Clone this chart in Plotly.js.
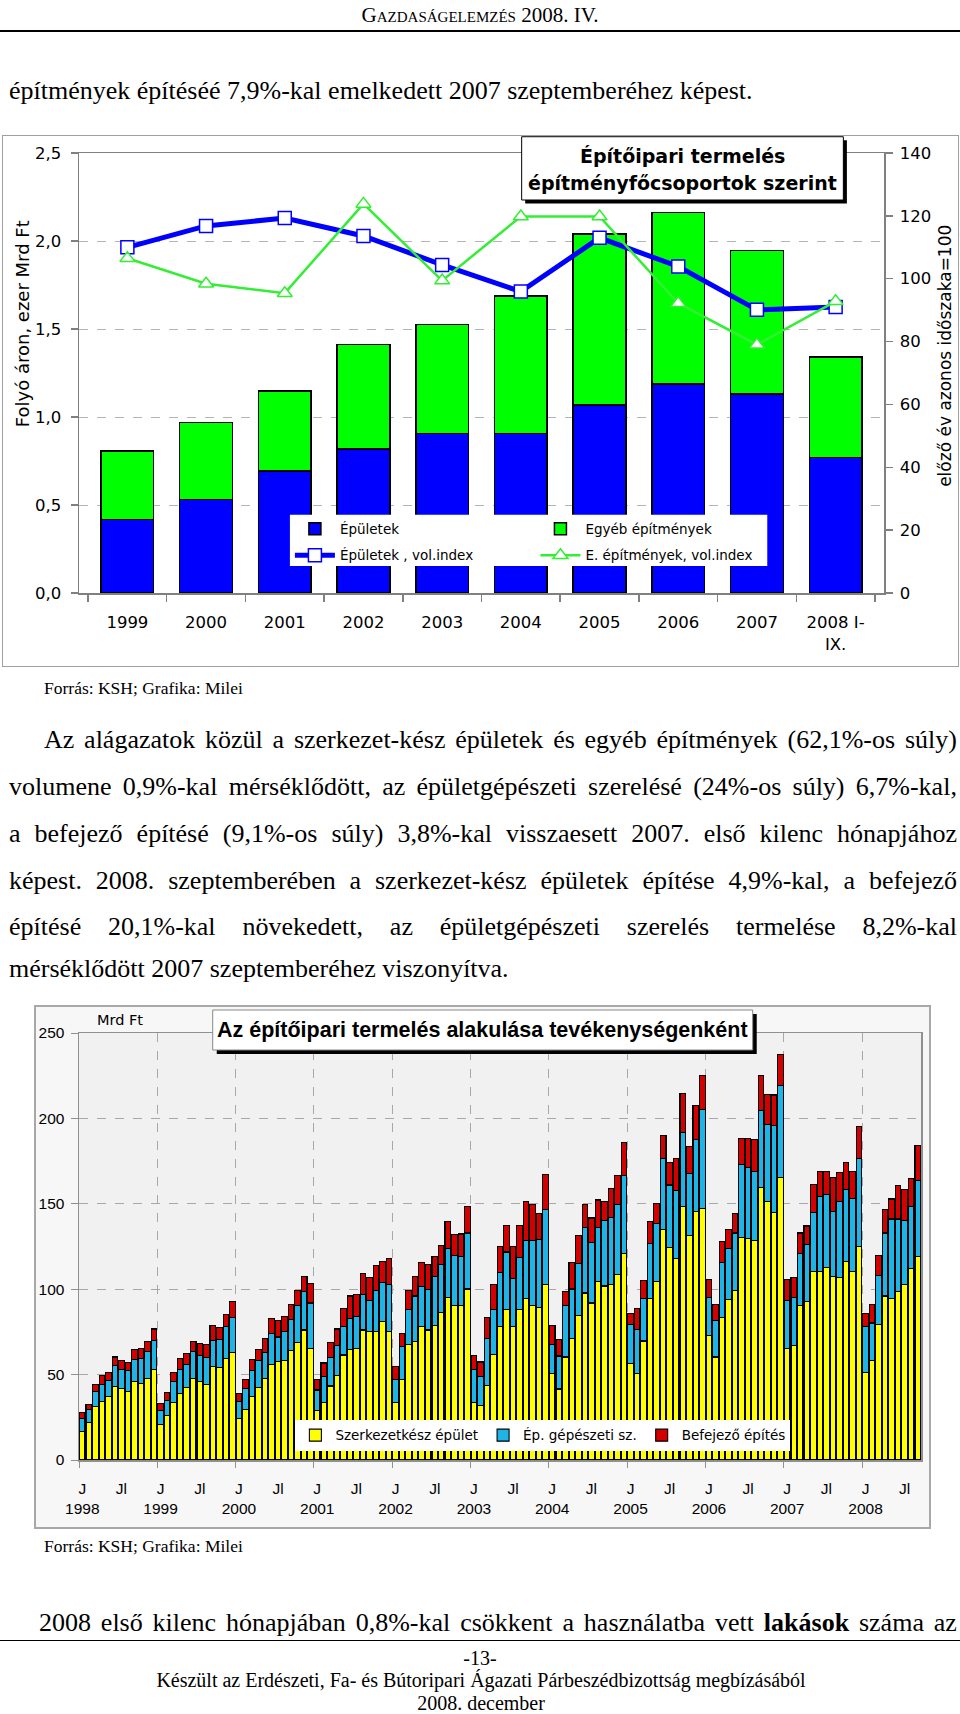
<!DOCTYPE html>
<html>
<head>
<meta charset="utf-8">
<script src="https://cdn.plot.ly/plotly-3.0.1.min.js"></script>
<style>
  body { margin: 0; background: #fff; }
  #page { position: relative; width: 960px; height: 1714px; overflow: hidden; }
  .t { position: absolute; font-family: 'Liberation Serif', serif; white-space: nowrap; color: #000; }
  .just { display: flex; justify-content: space-between; }
  .rule { position: absolute; left: 0; width: 960px; background: #000; }
  #c1 { position: absolute; left: 3px; top: 136px; width: 955px; height: 530px; outline: 1.5px solid #a0a0a0; }
  #c2 { position: absolute; left: 36px; top: 1007px; width: 893px; height: 520px; outline: 2px solid #a8a8a8; }
</style>
</head>
<body>
<div id="page">
  <div class="t" style="left:0;width:960px;top:3px;line-height:24px;font-size:21px;text-align:center;font-variant:small-caps;">Gazdaságelemzés 2008. IV.</div>
  <div class="rule" style="top:30px;height:1.5px;"></div>
  <div class="t" style="left:9px;top:76px;line-height:30px;font-size:26px;">építmények építéséé 7,9%-kal emelkedett 2007 szeptemberéhez képest.</div>

  <div id="c1"></div>
  <div class="t" style="left:44px;top:678px;line-height:20px;font-size:17.5px;">Forrás: KSH; Grafika: Milei</div>

  <div class="t just" style="left:44px;width:913px;top:725px;line-height:30px;font-size:26px;">Az alágazatok közül a szerkezet-kész épületek és egyéb építmények (62,1%-os súly)</div>
  <div class="t just" style="left:9px;width:948px;top:772px;line-height:30px;font-size:26px;">volumene 0,9%-kal mérséklődött, az épületgépészeti szerelésé (24%-os súly) 6,7%-kal,</div>
  <div class="t just" style="left:9px;width:948px;top:819px;line-height:30px;font-size:26px;">a befejező építésé (9,1%-os súly) 3,8%-kal visszaesett 2007. első kilenc hónapjához</div>
  <div class="t just" style="left:9px;width:948px;top:866px;line-height:30px;font-size:26px;">képest. 2008. szeptemberében a szerkezet-kész épületek építése 4,9%-kal, a befejező</div>
  <div class="t just" style="left:9px;width:948px;top:912px;line-height:30px;font-size:26px;">építésé 20,1%-kal növekedett, az épületgépészeti szerelés termelése 8,2%-kal</div>
  <div class="t" style="left:9px;top:954px;line-height:30px;font-size:26px;">mérséklődött 2007 szeptemberéhez viszonyítva.</div>

  <div id="c2"></div>
  <div class="t" style="left:44px;top:1536px;line-height:20px;font-size:17.5px;">Forrás: KSH; Grafika: Milei</div>

  <div class="t just" style="left:39px;width:918px;top:1608px;line-height:30px;font-size:26px;">2008 első kilenc hónapjában 0,8%-kal csökkent a használatba vett *lakások* száma az</div>
  <div class="rule" style="top:1640px;height:1px;"></div>
  <div class="t" style="left:0;width:960px;top:1648px;line-height:20px;font-size:20px;text-align:center;">-13-</div>
  <div class="t" style="left:0;width:962px;top:1670px;line-height:20px;font-size:20px;text-align:center;">Készült az Erdészeti, Fa- és Bútoripari Ágazati Párbeszédbizottság megbízásából</div>
  <div class="t" style="left:0;width:962px;top:1693px;line-height:20px;font-size:20px;text-align:center;">2008. december</div>
</div>

<script>
// justified lines: one span per word, bold where marked with *...*
document.querySelectorAll('.just').forEach(function (el) {
  var words = el.textContent.split(' ');
  el.textContent = '';
  words.forEach(function (w) {
    var s = document.createElement('span');
    if (w.charAt(0) === '*') { w = w.replace(/\*/g, ''); s.style.fontWeight = 'bold'; }
    s.textContent = w;
    el.appendChild(s);
  });
});

// ---------- chart 1: Építőipari termelés építményfőcsoportok szerint ----------
var evek1 = ['1999', '2000', '2001', '2002', '2003', '2004', '2005', '2006', '2007', '2008 I-<br>IX.'];
var epuletek = [0.417, 0.531, 0.692, 0.819, 0.905, 0.907, 1.068, 1.187, 1.130, 0.770];
var egyebEpitmenyek = [0.391, 0.438, 0.457, 0.594, 0.620, 0.781, 0.972, 0.975, 0.815, 0.572];
var epuletekIndex = [110.0, 116.8, 119.3, 113.6, 104.4, 95.9, 113.0, 103.9, 90.1, 91.0];
var egyebIndex = [106.5, 98.4, 95.4, 123.8, 99.4, 119.8, 119.8, 92.2, 79.0, 92.8];

var gray = '#808080';
var data1 = [
  {
    type: 'bar', name: 'Épületek', x: evek1, y: epuletek,
    marker: {color: '#0000ff', line: {color: '#000', width: 1.5}},
    legend: 'legend', legendgroup: 'a'
  },
  {
    type: 'bar', name: 'Egyéb építmények', x: evek1, y: egyebEpitmenyek,
    marker: {color: '#00ff00', line: {color: '#000', width: 1.5}},
    legend: 'legend2', legendgroup: 'b'
  },
  {
    type: 'scatter', mode: 'lines+markers', name: 'Épületek , vol.index',
    x: evek1, y: epuletekIndex, yaxis: 'y2',
    line: {color: '#0000ff', width: 5},
    marker: {symbol: 'square', size: 13, color: '#fff', line: {color: '#0000ff', width: 1.5}},
    legend: 'legend', legendgroup: 'c'
  },
  {
    type: 'scatter', mode: 'lines+markers', name: 'E. építmények, vol.index',
    x: evek1, y: egyebIndex, yaxis: 'y2',
    line: {color: '#33ee33', width: 2.5},
    marker: {symbol: 'triangle-up', size: 13, color: '#fff', line: {color: '#33ee33', width: 1.5}},
    legend: 'legend2', legendgroup: 'd'
  }
];

var layout1 = {
  width: 955, height: 530,
  margin: {l: 76, r: 74, t: 17, b: 73},
  paper_bgcolor: '#fff', plot_bgcolor: '#fff',
  separators: ',.',
  font: {family: 'DejaVu Sans', size: 16.5, color: '#000'},
  barmode: 'stack', bargap: 0.33,
  legend: {x: 0.262, y: 0.181, xanchor: 'left', yanchor: 'top', bgcolor: 'rgba(0,0,0,0)',
           font: {size: 13.5}, tracegroupgap: 6, itemwidth: 40},
  legend2: {x: 0.567, y: 0.181, xanchor: 'left', yanchor: 'top', bgcolor: 'rgba(0,0,0,0)',
            font: {size: 13.5}, tracegroupgap: 6, itemwidth: 40},
  xaxis: {type: 'category', tickson: 'boundaries', ticks: 'outside', ticklen: 7, tickcolor: gray,
          tickwidth: 1.5, showline: true, linecolor: gray, linewidth: 1.5, mirror: true,
          showgrid: false, ticklabelstandoff: 14},
  yaxis: {range: [0, 2.5], dtick: 0.5, tickformat: '.1f', ticks: 'outside', ticklen: 7,
          tickcolor: gray, tickwidth: 1.5, showline: true, linecolor: gray, linewidth: 1.5,
          mirror: true, showgrid: true, gridcolor: '#b4b4b4', griddash: 'dash', zeroline: false,
          ticklabelstandoff: 6},
  yaxis2: {overlaying: 'y', side: 'right', range: [0, 140], dtick: 20, ticks: 'outside',
           ticklen: 7, tickcolor: gray, tickwidth: 1.5, showgrid: false, zeroline: false,
           showline: true, linecolor: gray, linewidth: 1.5, ticklabelstandoff: 4},
  shapes: [
    {type: 'rect', xref: 'paper', yref: 'paper', x0: 0.262, x1: 0.855, y0: 0.0614, y1: 0.178,
     layer: 'above', fillcolor: '#fff', line: {width: 0}},
    {type: 'rect', xref: 'paper', yref: 'paper', x0: 0.5543, x1: 0.9539, y0: 0.8852, y1: 1.029,
     layer: 'above', fillcolor: '#000', line: {width: 0}},
    {type: 'rect', xref: 'paper', yref: 'paper', x0: 0.5499, x1: 0.9495, y0: 0.8932, y1: 1.037,
     layer: 'above', fillcolor: '#fff', line: {color: '#000', width: 1}}
  ],
  annotations: [
    {text: '<b>Építőipari termelés</b>', xref: 'paper', yref: 'paper', x: 0.75, y: 0.9932,
     showarrow: false, xanchor: 'center', yanchor: 'middle', font: {size: 19}},
    {text: '<b>építményfőcsoportok szerint</b>', xref: 'paper', yref: 'paper', x: 0.75, y: 0.9311,
     showarrow: false, xanchor: 'center', yanchor: 'middle', font: {size: 19}},
    {text: 'Folyó áron, ezer Mrd Ft', xref: 'paper', yref: 'paper', x: -0.0708, y: 0.611,
     textangle: -90, showarrow: false, xanchor: 'center', yanchor: 'middle', font: {size: 18}},
    {text: 'előző év azonos időszaka=100', xref: 'paper', yref: 'paper', x: 1.0758, y: 0.539,
     textangle: -90, showarrow: false, xanchor: 'center', yanchor: 'middle', font: {size: 17}}
  ]
};

Plotly.newPlot('c1', data1, layout1, {displayModeBar: false, staticPlot: true});

// ---------- chart 2: Az építőipari termelés alakulása tevékenységenként ----------
var evek2 = ['1998', '1999', '2000', '2001', '2002', '2003', '2004', '2005', '2006', '2007', '2008'];
var honapCimkek = ['J', 'Jl'];

var szerkezetkesz = [
  16.8, 21.7, 31.5, 34.5, 37.0, 43.2, 42.0, 40.0, 45.7, 45.0, 47.7, 53.2,
  20.7, 25.8, 33.5, 39.0, 42.6, 47.7, 46.1, 44.2, 54.8, 54.2, 59.5, 62.9,
  24.4, 29.8, 37.0, 42.6, 47.7, 55.8, 57.8, 58.3, 63.9, 69.0, 76.1, 65.4,
  29.0, 33.5, 43.3, 49.3, 61.5, 64.9, 65.4, 76.1, 75.5, 75.5, 81.2, 75.5,
  33.5, 47.3, 67.4, 69.4, 78.1, 76.1, 78.5, 86.3, 95.4, 90.3, 90.3, 100.1,
  33.5, 31.9, 43.6, 61.9, 78.1, 88.3, 78.1, 87.9, 94.8, 90.3, 89.3, 102.5,
  50.7, 41.6, 60.3, 71.4, 84.8, 97.8, 91.9, 104.5, 101.9, 102.9, 108.6, 120.8,
  56.4, 50.7, 69.7, 94.8, 104.5, 135.0, 124.2, 118.1, 148.2, 131.3, 145.5, 147.1,
  73.1, 60.3, 83.2, 93.8, 99.5, 130.5, 129.9, 128.3, 159.7, 151.2, 145.1, 165.4,
  65.4, 67.0, 90.3, 93.0, 110.6, 110.2, 112.6, 107.6, 106.6, 116.3, 110.6, 124.8,
  51.3, 58.5, 79.2, 96.0, 94.8, 98.8, 102.5, 112.2, 119.1
];
var gepeszeti = [
  7.6, 7.7, 8.5, 9.7, 9.7, 12.0, 11.2, 12.2, 13.2, 14.3, 15.6, 16.8,
  8.1, 9.3, 12.2, 14.2, 13.2, 15.6, 15.2, 15.7, 15.2, 16.2, 18.6, 20.7,
  10.1, 12.2, 15.2, 15.7, 15.2, 18.3, 14.2, 16.8, 18.3, 21.7, 22.7, 26.5,
  12.0, 15.2, 16.6, 17.7, 16.6, 17.7, 18.8, 20.7, 17.9, 24.0, 22.7, 27.0,
  13.6, 19.3, 20.9, 26.6, 23.4, 23.8, 29.1, 28.0, 28.4, 29.4, 28.9, 32.8,
  19.7, 16.8, 27.8, 26.4, 31.5, 33.5, 28.1, 30.8, 33.7, 38.2, 39.6, 44.0,
  16.7, 19.3, 30.0, 28.7, 30.3, 38.2, 35.4, 31.5, 38.1, 39.2, 41.2, 46.0,
  22.8, 25.8, 25.1, 32.1, 33.9, 41.6, 36.8, 39.6, 43.6, 36.7, 42.2, 57.9,
  22.3, 21.5, 32.5, 30.0, 33.4, 42.6, 41.2, 40.8, 44.7, 45.3, 50.8, 53.8,
  28.0, 28.0, 30.5, 33.2, 34.5, 44.1, 43.1, 37.9, 45.0, 42.0, 42.3, 51.8,
  26.8, 21.7, 28.8, 36.9, 46.3, 42.3, 37.5, 36.0, 44.3
];
var befejezo = [
  3.4, 3.1, 4.2, 5.1, 4.4, 5.1, 5.3, 5.0, 5.6, 6.1, 6.1, 6.7,
  4.3, 4.5, 5.6, 6.1, 6.5, 6.1, 7.1, 7.5, 8.5, 7.1, 7.1, 9.4,
  4.5, 5.1, 6.7, 6.6, 8.1, 8.5, 9.8, 9.1, 8.9, 8.3, 8.8, 11.6,
  6.3, 8.1, 8.7, 9.7, 10.8, 13.4, 12.6, 12.2, 13.2, 14.2, 12.4, 15.6,
  7.7, 7.5, 11.2, 11.6, 14.2, 14.8, 11.6, 11.5, 15.6, 12.2, 13.1, 15.3,
  8.1, 8.7, 11.8, 14.2, 15.2, 15.6, 19.0, 18.7, 22.7, 21.1, 15.2, 20.9,
  11.1, 9.5, 8.5, 15.6, 16.2, 13.6, 14.4, 16.2, 11.2, 16.6, 16.6, 18.9,
  6.5, 12.2, 10.5, 12.5, 11.8, 13.6, 13.0, 18.9, 22.9, 15.7, 19.9, 20.3,
  10.1, 9.1, 12.2, 11.2, 11.6, 15.1, 17.1, 18.6, 20.5, 17.6, 17.8, 18.3,
  12.5, 11.6, 12.1, 10.8, 16.3, 14.8, 13.4, 19.9, 16.9, 15.9, 16.2, 18.7,
  7.8, 10.7, 11.7, 13.6, 11.7, 19.8, 18.3, 16.8, 20.7
];

// month index on the x axis, labels at January and July
var honapok = szerkezetkesz.map(function (v, i) { return i; });
var tickVals = [], tickText = [], evHatarok = [];
evek2.forEach(function (ev, k) {
  tickVals.push(12 * k); tickText.push(honapCimkek[0] + '<br>' + ev);
  if (12 * k + 6 < honapok.length) { tickVals.push(12 * k + 6); tickText.push(honapCimkek[1]); }
  evHatarok.push(12 * k - 0.5);
});

var outline = {color: '#000', width: 1.1};
var data2 = [
  {type: 'bar', name: 'Szerkezetkész épület', x: honapok, y: szerkezetkesz,
   marker: {color: '#ffff00', line: outline}},
  {type: 'bar', name: 'Ép. gépészeti sz.', x: honapok, y: gepeszeti,
   marker: {color: '#1fb4e6', line: outline}},
  {type: 'bar', name: 'Befejező építés', x: honapok, y: befejezo,
   marker: {color: '#d40000', line: outline}}
];

var gray2 = '#909090';
var layout2 = {
  width: 893, height: 520,
  margin: {l: 43, r: 8, t: 26, b: 67},
  paper_bgcolor: '#f7f7f7', plot_bgcolor: '#f1f1f1',
  font: {family: 'Liberation Sans', size: 15.5, color: '#000'},
  barmode: 'stack', bargap: 0.15,
  legend: {orientation: 'h', traceorder: 'normal', x: 0.257, y: 0.094, xanchor: 'left', yanchor: 'top',
           bgcolor: '#fff', font: {family: 'DejaVu Sans', size: 13.5}, itemwidth: 30},
  xaxis: {range: [-0.5, honapok.length - 0.5], tickmode: 'array', tickvals: tickVals, ticktext: tickText,
          ticks: '', showgrid: false, zeroline: false, showline: true, mirror: true,
          linecolor: gray2, linewidth: 1.5, ticklabelstandoff: 14,
          minor: {tickmode: 'array', tickvals: evHatarok, ticks: 'outside', ticklen: 6,
                  tickcolor: gray2, showgrid: true, gridcolor: '#a8a8a8', griddash: 'dash', gridwidth: 1}},
  yaxis: {range: [0, 250], dtick: 50, ticks: 'outside', ticklen: 7, tickcolor: gray2,
          showline: true, mirror: true, linecolor: gray2, linewidth: 1.5, zeroline: false,
          gridcolor: '#a8a8a8', griddash: 'dash', ticklabelstandoff: 3},
  shapes: [
    {type: 'rect', xref: 'paper', yref: 'paper', x0: 0.1636, x1: 0.8049, y0: 0.9508, y1: 1.0445,
     layer: 'above', fillcolor: '#000', line: {width: 0}},
    {type: 'rect', xref: 'paper', yref: 'paper', x0: 0.1588, x1: 0.8001, y0: 0.9602, y1: 1.0539,
     layer: 'above', fillcolor: '#fff', line: {color: '#888', width: 1}}
  ],
  annotations: [
    {text: '<b>Az építőipari termelés alakulása tevékenységenként</b>', xref: 'paper', yref: 'paper',
     x: 0.4795, y: 1.007, showarrow: false, xanchor: 'center', yanchor: 'middle',
     font: {family: 'Liberation Sans', size: 21.5}},
    {text: 'Mrd Ft', xref: 'paper', yref: 'paper', x: 0.0483, y: 1.0305, showarrow: false,
     xanchor: 'center', yanchor: 'middle', font: {family: 'DejaVu Sans', size: 14.5}}
  ]
};

Plotly.newPlot('c2', data2, layout2, {displayModeBar: false, staticPlot: true});
</script>
</body>
</html>
